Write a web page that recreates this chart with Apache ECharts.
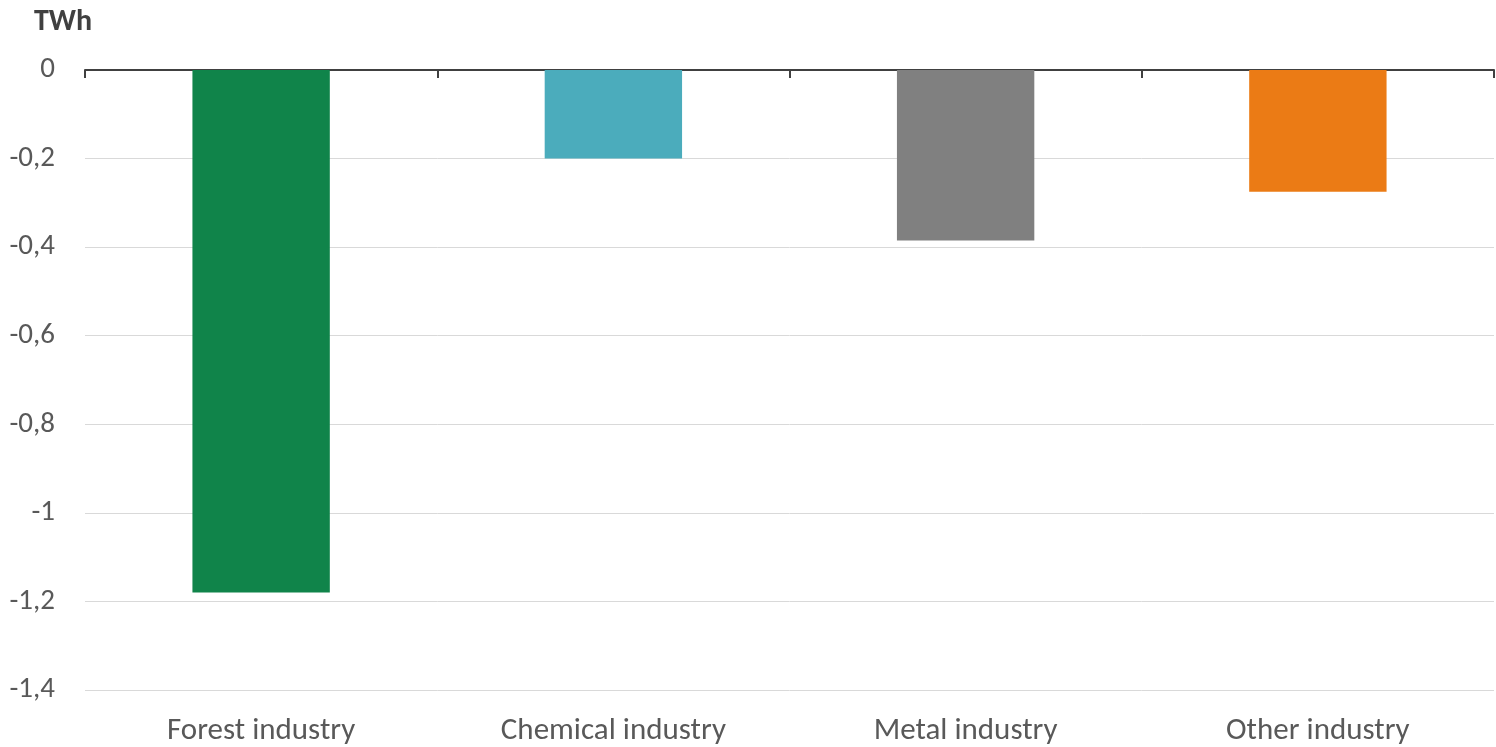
<!DOCTYPE html>
<html>
<head>
<meta charset="utf-8">
<script src="https://cdn.jsdelivr.net/npm/echarts@6/dist/echarts.min.js"></script>
<style>
  html,body{margin:0;padding:0;background:#fff;}
  #chart{width:1496px;height:747px;}
</style>
</head>
<body>
<div id="chart"></div>
<script>
/* Cambio en consumo de energía por rama industrial (TWh) */
const CATS = ["Forest industry","Chemical industry","Metal industry","Other industry"];
const VALS = [-1.18, -0.2, -0.385, -0.275];
const COLS = ["#10844A","#4BACBC","#808080","#EB7B15"];
const FONT = "Carlito, 'Open Sans', sans-serif";

const chart = echarts.init(document.getElementById("chart"));
chart.setOption({
  animation:false,
  textStyle:{fontFamily:FONT},
  title:{text:"TWh",left:29,top:2,textStyle:{fontFamily:FONT,fontSize:30,fontWeight:"bold",color:"#404040"}},
  grid:{left:85,right:2,top:70,bottom:57},
  xAxis:[
    {type:"category",data:CATS,position:"bottom",
     axisLine:{show:false},axisTick:{show:false},
     axisLabel:{fontSize:31,color:"#595959",margin:26,fontFamily:FONT}},
    {type:"category",data:CATS,position:"top",
     axisLine:{show:true,lineStyle:{color:"#404040",width:2}},
     axisTick:{show:true,inside:true,length:8,lineStyle:{color:"#404040",width:2}},
     axisLabel:{show:false}}
  ],
  yAxis:{type:"value",min:-1.4,max:0,interval:0.2,
    axisLine:{show:false},axisTick:{show:false},
    splitLine:{lineStyle:{color:"#d9d9d9",width:1}},
    axisLabel:{fontSize:29,color:"#595959",margin:30,fontFamily:FONT,
      formatter:v=>{const r=Math.round(v*10)/10;return r===0?"0":String(r).replace(".",",");}}},
  series:[{type:"bar",xAxisIndex:0,barWidth:"39%",
    data:VALS.map((v,i)=>({value:v,itemStyle:{color:COLS[i]}}))}]
});
</script>
</body>
</html>
